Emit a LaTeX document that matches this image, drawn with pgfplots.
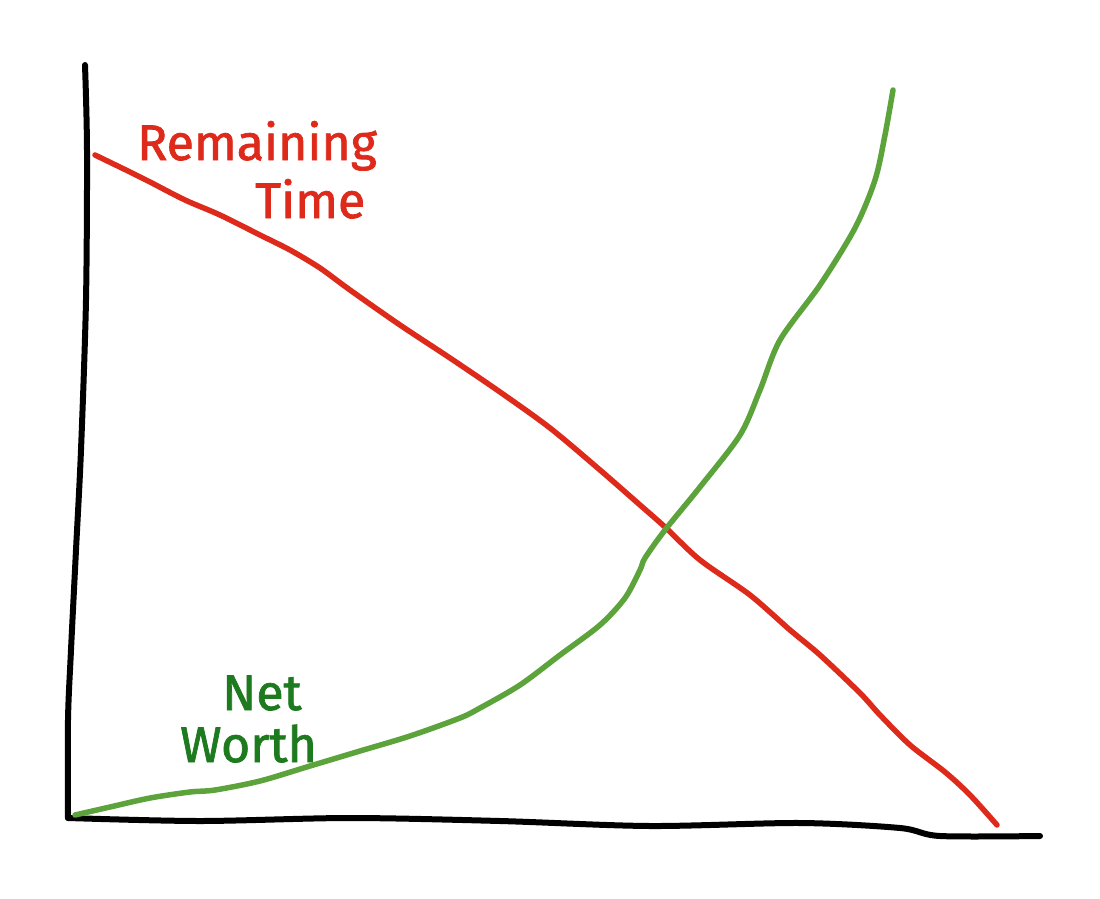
\documentclass[border=0pt]{standalone}
\usepackage{pgfplots}
\pgfplotsset{compat=1.18}
\usepackage{fontspec}
\setmainfont{Fira Sans}
\definecolor{rline}{HTML}{DD2A1B}
\definecolor{gline}{HTML}{5CA33B}
\definecolor{gtext}{HTML}{1E7A1E}
\begin{document}
\begin{tikzpicture}
\begin{axis}[
  scale only axis, width=1100pt, height=899pt,
  xmin=0, xmax=1100, ymin=0, ymax=899,
  hide axis, clip=false,
  y dir=reverse,
]
\addplot[draw=none] coordinates {(0,0) (1100,899)};
% axes
\addplot[black, line width=6pt, smooth, line cap=round] coordinates {
(85,65) (87,150) (86,300) (81,450) (76,550) (71,650) (68,720) (68,818)};
\addplot[black, line width=6pt, smooth, line cap=round] coordinates {
(68,818) (200,821) (350,818) (500,821) (650,826) (800,823) (900,828) (940,836) (1040,836)};
% remaining time
\addplot[rline, line width=5.5pt, smooth, line cap=round] coordinates {
(95,155) (130,172) (150,182) (185,200) (220,215) (260,235) (290,250) (320,268) (350,290) (400,325) (450,358) (500,392) (550,428) (600,470) (640,505) (665,527) (700,560) (750,595) (790,630) (820,655) (860,693) (880,715) (910,745) (945,772) (970,795) (997,825)};
% net worth
\addplot[gline, line width=5.5pt, smooth, line cap=round] coordinates {
(75,815) (110,807) (150,798) (190,792) (215,790) (260,781) (310,766) (360,751) (410,736) (460,718) (480,708) (520,685) (560,655) (600,625) (625,598) (640,570) (645,558) (665,530) (700,487) (740,435) (760,390) (780,340) (820,285) (855,228) (875,180) (885,135) (893,90)};
\node[rline, font=\fontsize{50}{52}\selectfont\addfontfeatures{FakeBold=1.5}, anchor=base west, inner sep=0pt] at (axis cs:137,160) {Remaining};
\node[rline, font=\fontsize{50}{52}\selectfont\addfontfeatures{FakeBold=1.5}, anchor=base west, inner sep=0pt] at (axis cs:255,218) {Time};
\node[gtext, font=\fontsize{50}{52}\selectfont\addfontfeatures{FakeBold=1.5}, anchor=base west, inner sep=0pt] at (axis cs:222,710) {Net};
\node[gtext, font=\fontsize{50}{52}\selectfont\addfontfeatures{FakeBold=1.5}, anchor=base west, inner sep=0pt] at (axis cs:180,762) {Worth};
\end{axis}
\end{tikzpicture}
\end{document}
